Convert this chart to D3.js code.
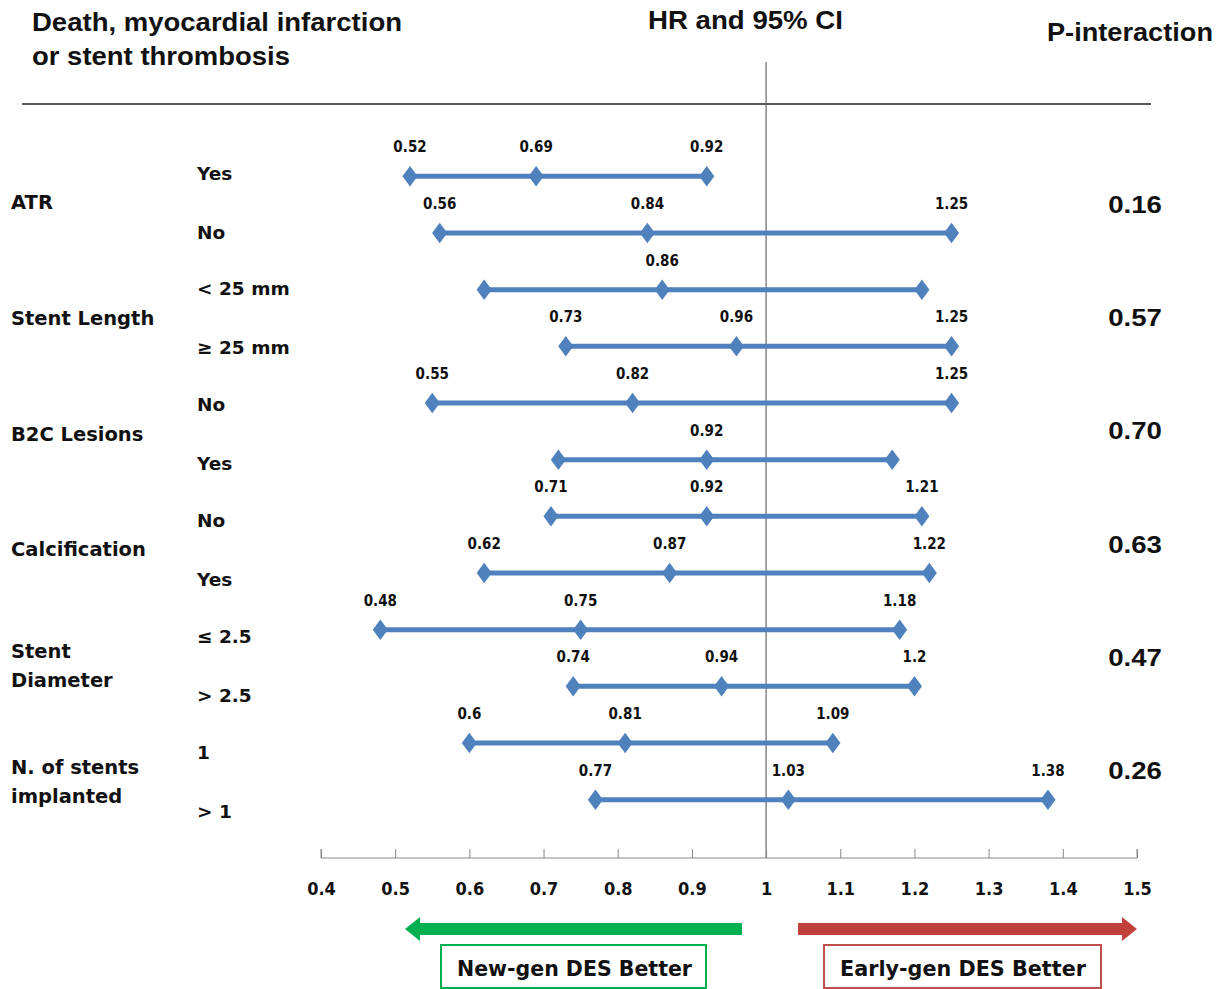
<!DOCTYPE html>
<html><head><meta charset="utf-8">
<script src="https://cdn.jsdelivr.net/npm/d3@7"></script>
<style>body{margin:0;background:#fff}svg{display:block}</style>
</head><body>
<script>
const groups = ["ATR","Stent Length","B2C Lesions","Calcification","Stent\nDiameter","N. of stents\nimplanted"];
const pInteraction = ["0.16","0.57","0.70","0.63","0.47","0.26"];
const subgroups = ["Yes","No","< 25 mm","≥ 25 mm","No","Yes","No","Yes","≤ 2.5","> 2.5","1","> 1"];
const lower = [0.52,0.56,0.62,0.73,0.55,0.72,0.71,0.62,0.48,0.74,0.60,0.77];
const hr    = [0.69,0.84,0.86,0.96,0.82,0.92,0.92,0.87,0.75,0.94,0.81,1.03];
const upper = [0.92,1.25,1.21,1.25,1.25,1.17,1.21,1.22,1.18,1.20,1.09,1.38];
const lowerLabels = ["0.52","0.56","","0.73","0.55","","0.71","0.62","0.48","0.74","0.6","0.77"];
const hrLabels    = ["0.69","0.84","0.86","0.96","0.82","0.92","0.92","0.87","0.75","0.94","0.81","1.03"];
const upperLabels = ["0.92","1.25","","1.25","1.25","","1.21","1.22","1.18","1.2","1.09","1.38"];
const ticks = [0.4,0.5,0.6,0.7,0.8,0.9,1,1.1,1.2,1.3,1.4,1.5];

const W=1227,H=989;
const svg=d3.select("body").append("svg").attr("width",W).attr("height",H);
const x=d3.scaleLinear().domain([0.4,1.5]).range([321,1137]);
const y=d3.scaleBand().domain(d3.range(subgroups.length)).range([148,828]);
const yc=i=>y(i)+y.bandwidth()/2;
// label column layout (group label centres)
const gy=d3.scaleLinear().domain([0,groups.length-1]).range([202,781]);
const axisY=858;
const narrow='"Liberation Sans Narrow","DejaVu Sans Condensed",sans-serif';
const arial='"Liberation Sans", Arial, sans-serif';
const blue="#4f81bd";

// headers
const hdr=svg.append("g").attr("font-family",arial).attr("font-weight","bold").attr("font-size",25).attr("fill","#111");
hdr.append("text").attr("x",32).attr("y",31).attr("textLength",370).attr("lengthAdjust","spacingAndGlyphs").text("Death, myocardial  infarction");
hdr.append("text").attr("x",32).attr("y",65).attr("textLength",258).attr("lengthAdjust","spacingAndGlyphs").text("or stent thrombosis");
hdr.append("text").attr("x",648).attr("y",29).attr("textLength",195).attr("lengthAdjust","spacingAndGlyphs").text("HR and 95% CI");
hdr.append("text").attr("x",1047).attr("y",41).attr("textLength",166).attr("lengthAdjust","spacingAndGlyphs").text("P-interaction");

svg.append("line").attr("x1",22).attr("x2",1151).attr("y1",104).attr("y2",104).attr("stroke","#222").attr("stroke-width",1.3);

// vertical reference line
svg.append("line").attr("x1",x(1)).attr("x2",x(1)).attr("y1",62).attr("y2",axisY).attr("stroke","#666").attr("stroke-width",1.2);

// axis
const ax=svg.append("g").attr("transform",`translate(0,${axisY})`)
  .call(d3.axisTop(x).tickValues(ticks).tickSize(9).tickFormat(d=>""+d));
ax.select(".domain").attr("stroke","#888").attr("d",`M${x(0.4)},-9V0H${x(1.5)}V-9`);
ax.selectAll(".tick line").attr("stroke","#888");
ax.selectAll(".tick text").attr("y",37).attr("dy",0).attr("font-family",narrow).attr("font-weight","bold").attr("font-size",18).attr("fill","#111");

// group labels
const gl=svg.append("g").attr("font-family","DejaVu Sans, sans-serif").attr("font-weight","bold").attr("fill","#111");
groups.forEach((g,k)=>{
  const c=gy(k);
  const lines=g.split("\n");
  lines.forEach((l,j)=>{
    gl.append("text").attr("x",11).attr("y",c+7+(j-(lines.length-1)/2)*29).attr("font-size",19.5).text(l);
  });
  const mid=(yc(2*k)+yc(2*k+1))/2;
  svg.append("text").attr("transform",`translate(1135,${mid+8}) scale(1.15,1)`).attr("text-anchor","middle")
    .attr("font-family",arial).attr("font-weight","bold").attr("font-size",24).attr("fill","#111").text(pInteraction[k]);
});
// subgroup labels
subgroups.forEach((s,i)=>{
  const k=Math.floor(i/2), sgn=i%2?1:-1;
  gl.append("text").attr("x",197).attr("y",gy(k)+sgn*29.5+7).attr("font-size",18.5).text(s);
});

// CI lines
const rows=svg.append("g");
subgroups.forEach((s,i)=>{
  const cy=yc(i);
  rows.append("line").attr("x1",x(lower[i])).attr("x2",x(upper[i])).attr("y1",cy).attr("y2",cy).attr("stroke",blue).attr("stroke-width",5);
  [[lower[i],lowerLabels[i]],[hr[i],hrLabels[i]],[upper[i],upperLabels[i]]].forEach(([v,lab])=>{
    rows.append("path").attr("d",d3.symbol(d3.symbolDiamond,150)()).attr("transform",`translate(${x(v)},${cy}) scale(1.15,0.9)`).attr("fill",blue);
    if(lab) rows.append("text").attr("x",x(v)).attr("y",cy-24).attr("text-anchor","middle")
      .attr("font-family",narrow).attr("font-weight","bold").attr("font-size",15).attr("fill","#111").text(lab);
  });
});

// arrows
const ay=929;
function arrow(x0,x1,dir,color){
  const hl=15, hw=12, th=6;
  let d;
  if(dir<0){ d=`M${x1},${ay-th}H${x0+hl}V${ay-hw}L${x0},${ay}L${x0+hl},${ay+hw}V${ay+th}H${x1}Z`; }
  else { d=`M${x0},${ay-th}H${x1-hl}V${ay-hw}L${x1},${ay}L${x1-hl},${ay+hw}V${ay+th}H${x0}Z`; }
  svg.append("path").attr("d",d).attr("fill",color);
}
arrow(405,742,-1,"#00b050");
arrow(798,1137,1,"#c0403c");

svg.append("rect").attr("x",441).attr("y",945).attr("width",265).attr("height",43).attr("fill","none").attr("stroke","#00b050").attr("stroke-width",2);
svg.append("rect").attr("x",824).attr("y",945).attr("width",277).attr("height",43).attr("fill","none").attr("stroke","#c0504d").attr("stroke-width",2);
svg.append("text").attr("x",457).attr("y",976).attr("textLength",235).attr("lengthAdjust","spacingAndGlyphs").attr("font-family",narrow).attr("font-weight","bold").attr("font-size",22).attr("fill","#111").text("New-gen DES Better");
svg.append("text").attr("x",840).attr("y",976).attr("textLength",246).attr("lengthAdjust","spacingAndGlyphs").attr("font-family",narrow).attr("font-weight","bold").attr("font-size",22).attr("fill","#111").text("Early-gen DES  Better");
</script>
</body></html>
